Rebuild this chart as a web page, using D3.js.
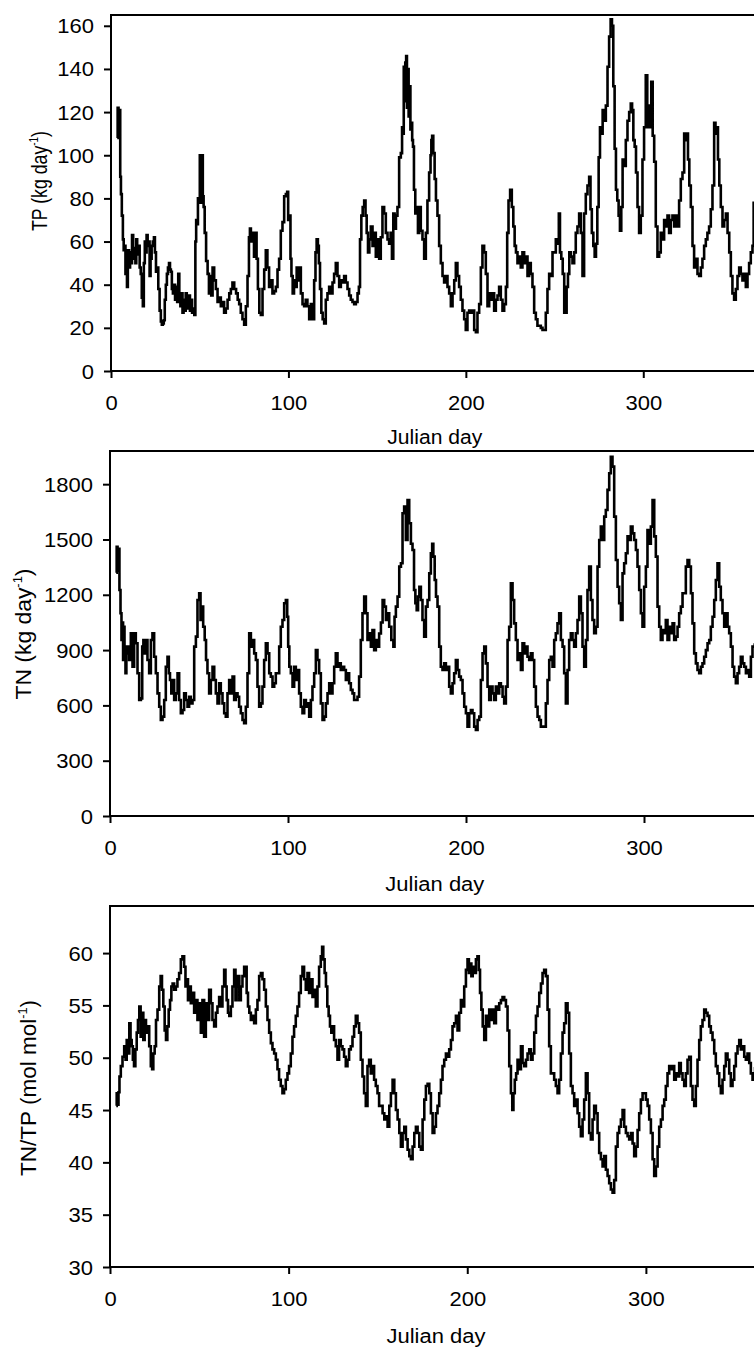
<!DOCTYPE html>
<html>
<head>
<meta charset="utf-8">
<script src="https://cdn.jsdelivr.net/npm/d3@7"></script>
<style>
  html, body { margin: 0; padding: 0; background: #fff; overflow: hidden; }
  svg { display: block; }
  text { font-family: "Liberation Sans", Arial, Helvetica, sans-serif; fill: #000; }
</style>
</head>
<body>
<svg id="chart" width="754" height="1347"></svg>
<script>
// Tick values
const dayTicks = [0, 100, 200, 300];
const tpTicks = [0, 20, 40, 60, 80, 100, 120, 140, 160];
const tnTicks = [0, 300, 600, 900, 1200, 1500, 1800];
const ratioTicks = [30, 35, 40, 45, 50, 55, 60];

// Daily total phosphorus load, [Julian day, kg day^-1]
const tpLoad = [
[3.5,108],[4,122],[4.5,110],[5,121],[5.4,90],[5.8,82],[6.4,72],[7,61],[7.3,56],[7.9,58],[8.4,45],[8.8,55],[9.2,39],[9.8,56],
[10.5,48],[11,55],[11.5,50],[12.2,63],[12.8,52],[13.5,57],[14,50],[14.5,61],[15,54],[15.8,58],[16.5,48],[17,45],[17.7,34],[18.2,30],
[18.8,50],[19.3,60],[19.8,55],[20.3,63],[21,58],[21.5,60],[22,44],[22.6,52],[23.2,58],[23.9,60],[24.5,62],[25,55],[25.7,46],[26.3,48],
[27,38],[27.8,28],[28.4,23],[28.9,21.5],[29.5,22],[30,23.5],[30.6,33],[31.2,40],[31.8,45],[32.4,48],[33,50],[33.5,47],[34,46],[34.6,38],
[35.2,36],[35.8,40],[36.4,33],[37,39],[37.6,32],[38.2,45],[38.8,35],[39.4,30],[40,36],[40.6,27],[41.2,33],[41.8,28],[42.4,36],[43,30],
[43.6,29],[44.2,35],[44.8,28],[45.4,33],[46,27],[46.6,29],[47.3,26],[47.8,60],[48.2,70],[48.8,68],[49.2,80],[49.8,78],[50.3,100],[50.8,78],
[51.5,100],[52,81],[52.4,76],[53.2,64],[54,51],[54.9,45],[55.5,36],[56.2,44],[56.8,35],[57.7,48],[58.6,42],[59.6,38],[60.5,32],[61.4,34],
[62.4,30],[63.3,32],[64.2,27],[65.2,29],[66.2,33],[67.1,36],[68,38],[68.9,41],[70,38],[71,36],[71.8,33],[72.7,31],[73.6,27],[74.6,24],
[75.5,21.5],[76.5,30],[77.4,44],[78.1,62],[78.5,66],[79.2,60],[80.2,64],[81,53],[81.7,64],[82.4,52],[83.2,38],[84,27],[84.9,26],[85.9,38],
[86.8,47],[87.7,56],[88.6,48],[89.6,39],[90.5,42],[91.5,36],[92.4,37],[93.4,39],[94.3,47],[95.2,52],[96.2,65],[97.1,69],[98.1,81],[99,82],
[99.6,83],[100.1,70],[100.9,72],[101.4,52],[102,44],[102.8,36],[103.5,42],[104.3,39],[105,48],[105.8,42],[106.5,48],[107.5,36],[108.4,31],
[109.3,30],[110.2,33],[111.2,30],[112.2,24],[113.1,31],[114,24],[115,42],[115.5,55],[116.3,61],[116.9,58],[117.4,50],[118.2,38],[118.9,27],
[119.7,24],[120.6,22],[121.5,33],[122.5,36],[123.4,39],[124.4,36],[125.3,41],[126.2,45],[127.2,50],[128.1,44],[129.1,39],[130,42],[130.9,41],
[131.9,44],[132.8,41],[133.8,38],[134.7,35],[135.6,33],[136.6,32],[137.5,31],[138.5,32],[139.4,36],[140,39],[140.7,61],[141.5,72],[142.2,76],
[143.2,79],[143.7,72],[144.5,64],[145.2,55],[146,61],[146.9,67],[147.9,58],[148.8,64],[149.7,53],[150.7,61],[151.6,52],[152.5,62],[153.5,76],
[154.4,73],[155.4,64],[156.3,61],[157.2,59],[158,64],[158.7,52],[159.5,73],[160.2,66],[161,72],[161.9,76],[162.9,99],[163.8,101],[164.3,113],
[164.8,110],[165.2,141],[165.6,125],[166.1,143],[166.6,146],[167,122],[167.5,140],[168,118],[168.5,132],[169,112],[169.5,115],[170,107],
[170.4,104],[171.1,84],[171.9,73],[172.6,76],[173.4,64],[174.1,76],[175.1,65],[176,61],[177,52],[177.9,64],[178.8,79],[179.8,92],[180.4,100],
[180.7,107],[181.3,109],[182,101],[182.8,89],[183.5,79],[184.5,72],[185.4,58],[186.4,50],[187.3,44],[188.2,41],[189.2,44],[190.1,39],[191.1,36],
[192,30],[193,36],[193.9,42],[194.8,50],[195.7,44],[196.7,39],[197.6,33],[198.6,28],[199.5,24],[200.4,19],[201.4,27],[202.3,28],[203.3,27],
[204.2,28],[205.2,19],[206.1,18],[207,27],[208,31],[208.9,48],[209.8,58],[210.8,55],[211.7,45],[212.7,30],[213.6,36],[214.5,33],[215.5,36],
[216.4,28],[217.4,33],[218.3,35],[219.2,39],[220.2,33],[221.1,28],[222.1,31],[223,39],[223.6,64],[224.5,79],[225.4,84],[226.4,76],[227.1,67],
[227.9,58],[228.6,55],[229.6,50],[230.5,53],[231.4,48],[232.4,55],[233.3,50],[234.3,53],[235.2,44],[236.1,50],[237.1,45],[238,39],[239,27],
[239.9,24],[240.8,21],[241.8,21],[242.7,20],[243.7,19],[244.6,19],[245.5,27],[246.5,38],[247.4,45],[248.4,44],[249.3,55],[250.2,55],[251.2,61],
[252.1,59],[252.7,73],[253.4,55],[254.2,52],[255,45],[255.9,27],[256.4,27],[257.2,39],[257.9,45],[258.7,55],[259.6,53],[260.6,50],[261.5,55],
[262.4,64],[263.4,67],[264.3,73],[265.3,64],[266.2,44],[267.1,73],[268.1,82],[269,86],[270,90],[270.5,75],[271.5,64],[272.2,58],[273,53],
[273.7,59],[274.5,76],[275.2,99],[276,113],[276.7,110],[277.5,121],[278.4,116],[279.4,123],[280.3,141],[281.2,155],[282,163],[282.7,160],
[283.5,132],[284.2,103],[285,84],[285.7,79],[286.5,72],[287.2,65],[288,76],[288.7,98],[289.7,95],[290.6,107],[291.6,116],[292.5,120],
[293.4,124],[294,121],[294.8,107],[295.5,104],[296.3,92],[297.2,76],[298.1,64],[299.1,72],[300,98],[300.9,113],[301.9,137],[302.6,113],
[303.4,123],[304.1,113],[304.9,134],[305.7,109],[306.6,97],[307.5,67],[308.5,53],[309.4,55],[310.3,64],[311.3,61],[312.2,70],[313.2,67],
[314.1,72],[315,64],[316,70],[316.9,72],[317.9,67],[318.8,72],[319.7,67],[320.7,79],[321.6,89],[322.6,92],[323.5,110],[324.1,107],[324.8,110],
[325.6,98],[326.3,86],[327.3,76],[328.2,58],[329.1,48],[330.1,52],[331,45],[332,44],[332.9,48],[333.8,52],[334.8,58],[335.7,61],[336.6,64],
[337.6,67],[338.5,75],[339.5,86],[340.4,115],[341,110],[341.7,113],[342.5,98],[343.2,86],[344.2,76],[345.1,67],[346.1,70],[347,73],[348,64],
[348.9,55],[349.8,44],[350.7,36],[351.7,33],[352.6,38],[353.6,44],[354.5,48],[355.4,45],[356.4,42],[357.3,45],[358.3,39],[359.2,45],[360.1,50],
[361.1,55],[362,58],[362.4,78],[363.5,76]
];

// Daily total nitrogen load, [Julian day, kg day^-1]
const tnLoad = [
[3.5,1320],[4,1460],[4.5,1330],[5,1450],[5.6,1226],[6.2,1100],[6.7,955],[7.2,1050],[7.5,846],[7.9,1027],[8.4,919],[9,774],[9.4,882],
[10.3,919],[11.2,846],[12.2,991],[13.1,810],[14,991],[15,937],[15.9,774],[16.9,629],[17.8,638],[18.4,919],[19.1,955],[19.9,882],[20.6,955],
[21.5,846],[22.5,774],[23.4,955],[24.3,991],[25.3,864],[26.2,774],[27.2,665],[28.1,593],[29,521],[30,539],[30.9,629],[31.8,810],[32.8,864],
[33.3,774],[34.1,738],[34.8,665],[35.6,738],[36.5,629],[37.5,665],[38.4,774],[39.3,629],[40.3,557],[41.2,575],[42.1,665],[43.1,629],[44,593],
[44.9,647],[45.9,611],[46.8,629],[47.8,919],[48.7,973],[49.6,1172],[50.6,1208],[51.1,1063],[51.9,1136],[52.8,1027],[53.6,955],[54.3,846],
[55.2,774],[56.2,665],[57.1,738],[58.1,810],[59,738],[59.9,665],[60.9,611],[61.8,720],[62.7,665],[63.7,611],[64.6,557],[65.5,539],[66.5,665],
[67.4,738],[68.4,665],[69.3,756],[70.2,629],[71.2,665],[72.1,647],[73,593],[74,557],[74.9,521],[75.8,503],[76.8,593],[77.7,774],[78.7,991],
[79.6,919],[80.5,955],[81.5,882],[82.4,846],[83.3,702],[84.3,593],[85.2,611],[86.1,702],[87.1,846],[88,937],[89,882],[89.9,774],[90.8,756],
[91.8,702],[92.7,720],[93.6,774],[94.6,774],[95.5,919],[96.4,1027],[97.4,1063],[98.3,1154],[99.3,1172],[99.8,1081],[100.4,919],[101.1,810],
[102.1,774],[103,702],[103.9,810],[104.9,738],[105.8,792],[106.7,665],[107.7,593],[108.6,557],[109.6,629],[110.5,593],[111.4,611],[112.4,539],
[113.3,629],[114.2,702],[115.2,774],[116.1,900],[117,846],[118,774],[118.9,611],[119.9,521],[120.8,539],[121.7,611],[122.7,665],[123.6,720],
[124.5,665],[125.5,720],[126.4,810],[127.3,882],[128.3,810],[129.2,828],[130.1,792],[131.1,810],[132,792],[133,738],[133.9,774],[134.8,720],
[135.8,684],[136.7,665],[137.6,629],[138.6,629],[139.5,647],[140.4,756],[141.4,955],[142.3,1100],[143.3,1190],[144.2,1100],[145.1,955],
[146.1,991],[147,919],[147.9,1009],[148.9,900],[149.8,955],[150.7,919],[151.7,990],[152.7,1050],[153.6,1172],[154.5,1136],[155.5,1063],
[156.4,1100],[157.3,1027],[158.8,955],[159.6,919],[160.1,1081],[161.1,1136],[162,1190],[163,1353],[163.9,1371],[164.8,1642],[165.7,1678],
[166.7,1497],[167.6,1714],[168.6,1588],[169.5,1477],[170.4,1443],[171.2,1226],[171.9,1154],[172.7,1117],[173.4,1190],[174.2,1244],[175.1,1172],
[176,1063],[177,973],[177.9,1136],[178.9,1172],[179.8,1316],[180.7,1425],[181.3,1477],[182,1407],[182.8,1280],[183.5,1190],[184.5,1136],
[185.4,919],[186.3,810],[187.3,792],[188.2,828],[189.2,792],[190.1,810],[191,702],[192,665],[192.9,720],[193.8,774],[194.8,846],[195.7,792],
[196.6,756],[197.6,738],[198.5,665],[199.5,593],[200.4,557],[201.3,485],[202.3,557],[203.2,575],[204.1,557],[205.1,485],[206,467],[207,521],
[207.9,539],[208.8,738],[209.8,882],[210.7,919],[211.6,828],[212.6,702],[213.5,629],[214.4,702],[215.4,665],[216.3,629],[217.2,702],[218.2,665],
[219.1,720],[220.1,702],[221,647],[221.9,611],[222.9,702],[223.8,955],[224.7,1027],[225.7,1262],[226.6,1172],[227.5,1045],[228.5,955],
[229.4,846],[230.4,882],[231.3,792],[232.2,937],[233.2,882],[234.1,919],[235,864],[236,846],[236.9,882],[237.8,846],[238.8,702],[239.7,593],
[240.7,539],[241.6,521],[242.5,485],[243.5,485],[244.4,485],[245.3,611],[246.3,738],[247.2,846],[248.1,864],[249.1,810],[250,955],[250.9,991],
[251.9,1045],[252.8,1100],[253.8,955],[254.7,919],[255.6,774],[256.6,611],[257.5,792],[258.4,955],[259.4,991],[260.3,955],[261.2,919],
[262.2,991],[263.1,1063],[264.1,1190],[265,1100],[265.9,919],[266.9,810],[267.8,955],[268.7,1226],[269.7,1353],[270.6,1172],[271.5,1063],
[272.5,991],[273.4,1027],[274.4,1353],[275.3,1497],[276.2,1570],[277.2,1497],[278.1,1624],[279,1660],[280,1769],[280.9,1859],[281.8,1949],
[282.8,1895],[283.7,1624],[284.7,1389],[285.6,1244],[286.5,1154],[287.5,1063],[288.4,1316],[289.3,1371],[290.3,1425],[291.2,1517],[292.1,1497],
[293.1,1570],[294,1533],[295,1497],[295.9,1443],[296.8,1353],[297.8,1226],[298.7,1100],[299.6,1027],[300.6,1244],[301.5,1353],[302.4,1551],
[303.4,1477],[304.3,1570],[305.3,1714],[306.2,1517],[307.1,1407],[308.1,1136],[309,1027],[309.9,955],[310.9,1009],[311.8,991],[312.7,1063],
[313.7,955],[314.6,1027],[315.6,991],[316.5,1045],[317.4,955],[318.4,973],[319.3,1027],[320.2,1100],[321.2,1136],[322.1,1208],[323,1208],
[324,1353],[324.9,1389],[325.9,1353],[326.8,1208],[327.7,1045],[328.7,882],[329.6,828],[330.5,792],[331.5,774],[332.4,810],[333.3,828],
[334.3,864],[335.2,900],[336.2,937],[337.1,955],[338,1027],[339,1081],[339.9,1172],[340.8,1280],[341.8,1371],[342.7,1244],[343.6,1172],
[344.6,1100],[345.5,1027],[346.5,1100],[347.4,1027],[348.3,991],[349.3,919],[350.2,810],[351.1,756],[352.1,720],[353,774],[353.9,810],
[354.9,864],[355.8,828],[356.8,810],[357.7,774],[358.6,792],[359.6,756],[360.5,864],[361.4,919],[363,930]
];

// Molar TN:TP ratio, [Julian day, mol mol^-1]
const tnTpRatio = [
[3.5,45.4],[4,46.6],[4.5,45.5],[5,46.7],[5.6,48.2],[6.5,49.2],[7.5,50.1],[8.4,51.1],[9,49.8],[9.7,51.7],[10.4,50.4],[11.2,53.3],[11.8,51.7],
[12.5,51.1],[13.1,49.8],[13.8,49.2],[14.6,50.8],[15.3,52.4],[16,53.6],[16.8,54.9],[17.5,52],[18.3,54.3],[19,51.7],[19.8,53.6],[20.5,52.4],
[21.5,53],[22.4,51.1],[23.3,49.2],[23.9,48.9],[24.6,50.4],[25.4,51.1],[26.1,53.6],[27.1,54.6],[28,56.8],[28.7,57.8],[29.5,56.5],[30.2,54.9],
[31,52.6],[31.7,51.7],[32.5,53],[33.2,54.6],[34,55.5],[34.7,56.8],[35.4,57.1],[36.4,56.5],[37.3,56.8],[38.2,57.5],[39.2,58.1],[40.1,59.4],
[41,59.7],[42,58.7],[42.5,56.8],[43.3,57.5],[44,55.5],[44.8,56.8],[45.7,55.2],[46.6,56.2],[47.6,54.3],[48.5,55.5],[49.4,53.6],[50.4,55.2],
[51.3,52.4],[52.2,55.5],[53.2,52],[54.1,55.2],[55,53.6],[56,56.5],[56.9,55.2],[57.8,53.6],[58.8,53],[59.7,54.3],[60.6,54.9],[61.6,55.8],
[62.5,54.9],[63.4,56.8],[64.4,58.4],[64.9,56.8],[65.7,55.5],[66.4,54.3],[67.2,54],[68.1,54.9],[69,56.8],[70,58.4],[70.5,55.5],[71.3,56.8],
[72,57.8],[72.8,55.5],[73.7,56.8],[74.6,57.8],[75.6,58.7],[76.1,58.7],[76.9,56.2],[77.6,54.9],[78.4,54.3],[79.3,53.6],[80.2,54],[81.2,53.3],
[82.1,54.6],[83,55.5],[84,57.8],[84.9,58.1],[85.8,57.5],[86.8,56.5],[87.7,54.9],[88.6,53.6],[89.6,52.4],[90.5,51.4],[91.4,50.8],[92.4,50.4],
[93.3,49.8],[94.2,48.9],[95.1,47.9],[96.1,47.3],[97,46.6],[97.9,47],[98.9,47.9],[99.8,48.5],[100.7,49.2],[101.7,50.4],[102.6,52],[103.5,53],
[104.5,54],[105.4,54.9],[106.3,56.2],[107.3,57.8],[108.2,58.7],[109.1,57.5],[110.1,56.5],[111,58.1],[111.9,56.2],[112.9,57.5],[113.8,55.8],
[114.7,56.5],[115.7,54.9],[116.6,56.8],[117.5,58.7],[118.5,59.7],[119,60.6],[119.8,59.4],[120.5,58.1],[121.3,56.8],[122,54.9],[122.8,54],
[123.5,53],[124.3,52.4],[125,53],[125.9,51.7],[126.9,51.1],[127.8,49.8],[128.7,51.7],[129.7,51.1],[130.6,50.8],[131.5,50.1],[132.5,49.2],
[133.4,49.8],[134.3,50.8],[135.3,51.1],[136.2,52],[137.1,53],[138.1,54],[139,53.3],[139.9,52.4],[140.9,49.8],[141.8,48.2],[142.7,46.6],
[143.7,45.4],[144.6,49.2],[145.5,49.8],[146.5,48.5],[147.4,49.2],[148.3,47.9],[149.3,47.3],[150.2,46.6],[151.1,45.4],[152.1,45.4],[153.1,44.7],
[154,44.1],[154.9,44.4],[155.9,43.4],[156.8,45.4],[157.7,46.6],[158.7,47.9],[159.6,46.6],[160.5,45],[161.5,44.1],[162.4,42.8],[163.3,41.5],
[164.3,42.8],[165.2,43.4],[166.1,42.2],[167.1,41.2],[168,40.6],[168.9,40.3],[169.9,41.5],[170.8,42.8],[171.7,43.4],[172.7,42.8],[173.6,41.5],
[174.5,41.2],[175.5,44.1],[176.4,46],[177.3,47.3],[178.3,47.5],[179.2,46.6],[180.1,44.7],[181.1,42.8],[182,43.4],[182.9,44.7],[183.8,45.4],
[184.8,46.6],[185.7,47.9],[186.6,49.2],[187.6,49.8],[188.5,50.4],[189.4,50.1],[190.4,50.8],[191.3,51.7],[192.2,53],[193.2,53.3],[194.1,54],
[195,52.6],[196,54.3],[196.9,55.5],[197.8,54.9],[198.8,56.8],[199.7,58.4],[200.6,59.4],[201.2,58.1],[201.9,59],[202.7,57.8],[203.4,58.7],
[204.4,58.1],[205.3,59.4],[206.1,59.7],[206.8,58.4],[207.5,56.2],[208.3,54.6],[209,53],[210,51.7],[210.9,54],[211.8,53],[212.8,54.6],
[213.7,53.6],[214.6,54.6],[215.6,53.3],[216.5,54.9],[217.4,54.6],[218.4,55.2],[219.3,55.5],[220.2,55.8],[221.2,55.5],[222.1,54.9],[223,52.6],
[224,49.2],[224.9,46.6],[225.5,45],[226.2,46.6],[227,47.9],[227.7,48.5],[228.6,49.8],[229.6,48.9],[230.5,51.1],[231.4,49.5],[232.4,49.2],
[233.3,49.8],[234.2,50.4],[235.2,50.8],[236.1,49.8],[237,50.4],[238,52.4],[238.9,54],[239.8,54.9],[240.8,56.2],[241.7,57.1],[242.6,58.1],
[243.5,58.4],[244.5,57.8],[245.4,54.6],[246.3,51.1],[247.3,48.5],[248.2,48.5],[249.1,47.9],[250.1,47.3],[251,46.6],[251.9,47.9],[252.9,50.4],
[253.8,52.4],[254.7,53.3],[255.7,55.2],[256.6,54.3],[257.5,50.4],[258.5,47.3],[259.4,46.6],[260.3,45.4],[261.3,46],[262.2,44.7],[263.1,43.4],
[264.1,42.5],[265,44.1],[265.9,46],[266.9,48.5],[267.8,46.6],[268.7,42.8],[269.7,42.2],[270.6,44.1],[271.5,45.4],[272.5,44.7],[273.4,42.8],
[274.3,40.9],[275.3,40.3],[276.2,39.6],[277.1,40.6],[278.1,39.3],[279,38.7],[279.9,38],[280.9,37.4],[281.8,37.1],[282.7,38.3],[283.7,41.5],
[284.6,42.8],[285.5,43.4],[286.5,44.1],[287.4,45],[288.3,43.4],[289.3,42.8],[290.2,42.5],[291.1,42.2],[292.1,42.8],[293,41.8],[293.9,40.6],
[294.9,41.5],[295.8,43.1],[296.7,44.7],[297.7,46],[298.6,46.6],[299.5,46.6],[300.5,46],[301.4,45.4],[302.3,44.1],[303.3,42.8],[304.2,40.3],
[305.1,38.7],[306.1,39.6],[307,41.5],[307.9,43.4],[308.9,44.1],[309.8,45.4],[310.7,46],[311.6,47.3],[312.6,48.5],[313.5,49.2],[314.4,48.9],
[315.4,49.2],[316.3,47.9],[317.2,48.5],[318.2,48.2],[319.1,49.5],[320,48.5],[321,47.9],[321.9,47.3],[322.8,48.5],[323.8,49.8],[324.7,50.1],
[325.6,47.3],[326.6,46],[327.5,45.4],[328.4,47.3],[329.4,49.8],[330.3,51.7],[331.2,53],[332.2,53.6],[333.1,54.6],[334,54.3],[335,54],
[335.9,53],[336.8,52.4],[337.8,51.7],[338.7,50.4],[339.6,49.2],[340.6,48.5],[341.5,47.3],[342.4,46.6],[343.4,47.9],[344.3,49.2],[345.2,50.4],
[346.2,49.8],[347.1,48.5],[348,47.3],[349,47.9],[349.9,49.2],[350.8,50.4],[351.8,51.1],[352.7,51.7],[353.6,50.8],[354.6,51.1],[355.5,50.1],
[356.4,49.8],[357.4,50.4],[358.3,49.5],[359.2,48.5],[360.2,47.9],[362,49],[364,48.5]
];

const svg = d3.select("#chart");

// Frame placement for the three stacked plots
const panels = [
  { data: tpLoad, ticks: tpTicks, yDomain: [0, 165],
    left: 111, right: 758.6, top: 15, bottom: 371,
    title: "TP (kg day", titleX: 47, titleY: 181, titleLen: 100,
    xTitleDy: 73, xTitleLen: 95 },
  { data: tnLoad, ticks: tnTicks, yDomain: [0, 1980],
    left: 110, right: 759.7, top: 451, bottom: 816,
    title: "TN (kg day", titleX: 31, titleY: 634, titleLen: 131,
    xTitleDy: 75, xTitleLen: 99 },
  { data: tnTpRatio, ticks: ratioTicks, yDomain: [30, 64.5],
    left: 110, right: 762, top: 906, bottom: 1267,
    title: "TN/TP (mol mol", titleX: 36, titleY: 1088, titleLen: 176,
    xTitleDy: 76, xTitleLen: 99 }
];

const FONT = 20;
const STRETCH = 1.1;
const plain = d3.format("d");

panels.forEach((p, i) => {
  const x = d3.scaleLinear().domain([0, 365]).range([p.left, p.right]);
  const y = d3.scaleLinear().domain(p.yDomain).range([p.bottom, p.top]);
  const g = svg.append("g").attr("class", "panel-" + i);

  const clipId = "clip-" + i;
  g.append("clipPath").attr("id", clipId)
    .append("rect")
    .attr("x", p.left).attr("y", p.top)
    .attr("width", p.right - p.left).attr("height", p.bottom - p.top);

  // series, drawn as a stepped trace
  g.append("path")
    .datum(p.data)
    .attr("clip-path", `url(#${clipId})`)
    .attr("fill", "none")
    .attr("stroke", "#000")
    .attr("stroke-width", 2.6)
    .attr("stroke-linejoin", "miter")
    .attr("d", d3.line().curve(d3.curveStep).x(d => x(d[0])).y(d => y(d[1])));

  // frame
  g.append("rect")
    .attr("x", p.left).attr("y", p.top)
    .attr("width", p.right - p.left).attr("height", p.bottom - p.top)
    .attr("fill", "none").attr("stroke", "#000").attr("stroke-width", 2);

  // y axis
  const ya = g.append("g")
    .attr("transform", `translate(${p.left},0)`)
    .call(d3.axisLeft(y).tickValues(p.ticks).tickFormat(plain)
      .tickSize(7).tickSizeOuter(0).tickPadding(8.5));
  ya.attr("font-size", null).attr("font-family", null);
  ya.select(".domain").remove();
  ya.selectAll(".tick line").attr("stroke", "#000").attr("stroke-width", 2);
  ya.selectAll(".tick text")
    .attr("font-size", FONT)
    .attr("dy", "0.35em")
    .attr("transform", `scale(${STRETCH},1)`);

  // x axis
  const xa = g.append("g")
    .attr("transform", `translate(0,${p.bottom})`)
    .call(d3.axisBottom(x).tickValues(dayTicks).tickFormat(plain)
      .tickSize(7).tickSizeOuter(0));
  xa.attr("font-size", null).attr("font-family", null);
  xa.select(".domain").remove();
  xa.selectAll(".tick line").attr("stroke", "#000").attr("stroke-width", 2);
  xa.selectAll(".tick text")
    .attr("font-size", FONT)
    .attr("x", 0)
    .attr("y", 39)
    .attr("dy", 0)
    .attr("transform", `scale(${STRETCH},1)`);

  // x title
  g.append("text")
    .attr("x", (p.left + p.right) / 2)
    .attr("y", p.bottom + p.xTitleDy)
    .attr("text-anchor", "middle")
    .attr("font-size", 19.5)
    .attr("textLength", p.xTitleLen)
    .attr("lengthAdjust", "spacingAndGlyphs")
    .text("Julian day");

  // y title with superscript unit exponent
  const t = g.append("text")
    .attr("transform", `translate(${p.titleX},${p.titleY}) scale(${STRETCH},1) rotate(-90)`)
    .attr("text-anchor", "middle")
    .attr("font-size", 19.5)
    .attr("textLength", p.titleLen)
    .attr("lengthAdjust", "spacingAndGlyphs");
  t.append("tspan").text(p.title);
  t.append("tspan").attr("dy", -8).attr("font-size", 11).text("-1");
  t.append("tspan").attr("dy", 8).text(")");
});
</script>
</body>
</html>
